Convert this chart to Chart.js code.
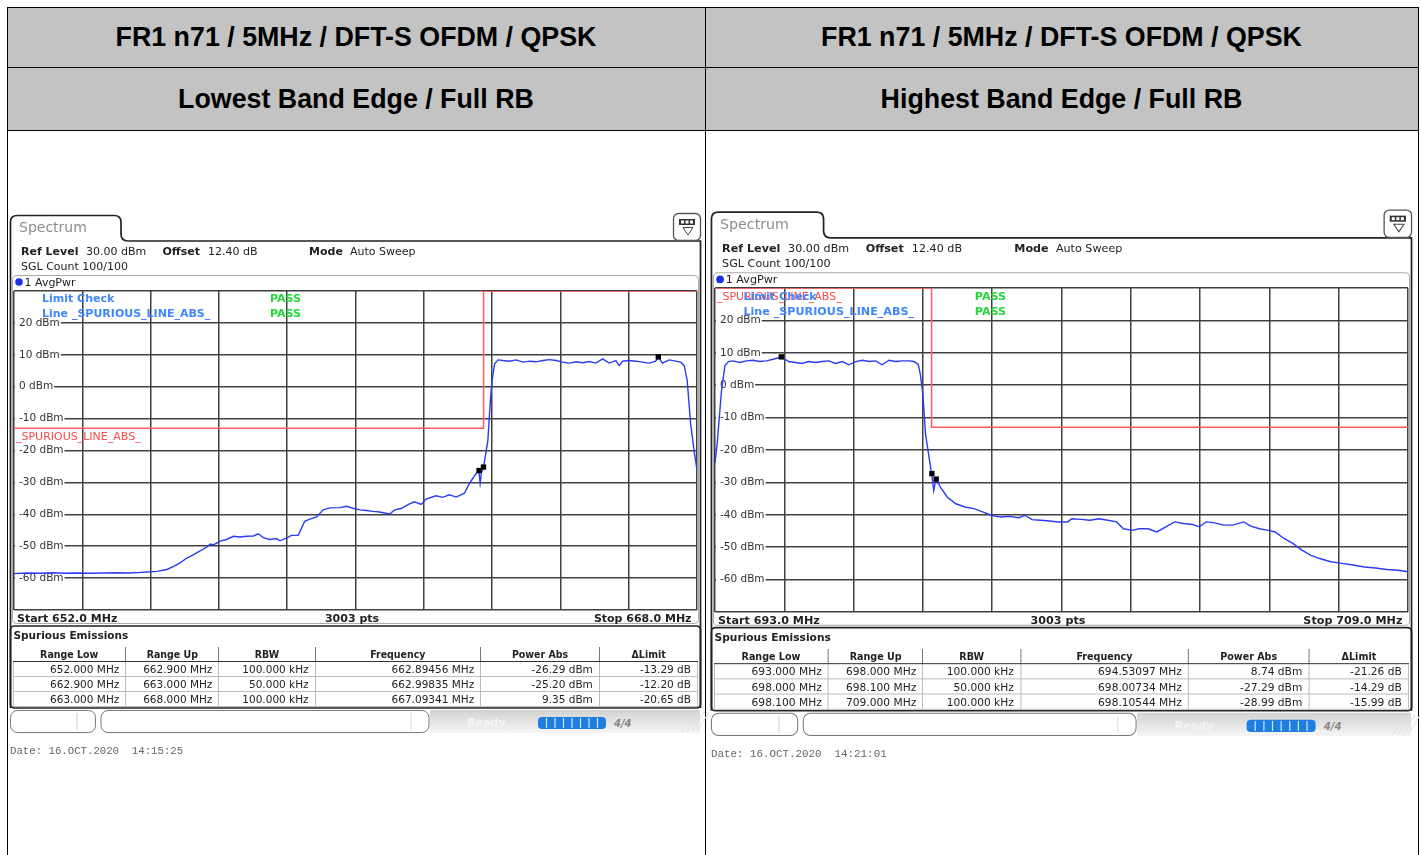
<!DOCTYPE html>
<html>
<head>
<meta charset="utf-8">
<script src="https://cdn.jsdelivr.net/npm/chart.js@4.4.1/dist/chart.umd.min.js"></script>
<style>
html, body { margin: 0; padding: 0; background: #fff; }
#page { position: relative; width: 1421px; height: 855px; overflow: hidden; font-family: "DejaVu Sans", sans-serif; color: #222; }
.hdr { position: absolute; background: #c3c3c3; display: flex; align-items: center; justify-content: center; font: bold 26.8px "Liberation Sans", Arial, sans-serif; color: #000; }
.ln { position: absolute; background: #000; }
.panel { position: absolute; left: 0; top: 0; width: 710px; height: 770px; transform-origin: 0 0; }
.panel svg { position: absolute; left: 0; top: 0; }
.t { position: absolute; white-space: pre; font-size: 11px; line-height: 13px; }
.b { font-weight: bold; }
.blue { color: #3f86ff; font-weight: bold; }
.pass { color: #25d83a; font-weight: bold; }
canvas { position: absolute; }
table.spur { position: absolute; left: 12.5px; top: 646.5px; border-collapse: collapse; table-layout: fixed; width: 684.5px; font-size: 10.5px; }
table.spur th { font-family: "DejaVu Sans Condensed", "DejaVu Sans", sans-serif; font-stretch: condensed; font-weight: bold; height: 14px; padding: 0; line-height: 14px; border-right: 1px solid #777; border-bottom: 1.5px solid #333; }
table.spur th:last-child { border-right: none; }
table.spur td { height: 14px; padding: 0 6px 0 0; line-height: 14px; text-align: right; border: 1px solid #bdbdbd; color: #222; }
</style>
</head>
<body>
<div id="page">
  <canvas id="chartL" width="691" height="327" style="left:10px;top:287px;width:691px;height:327px"></canvas>
  <canvas id="chartR" width="701" height="332" style="left:711px;top:284px;width:701px;height:332px"></canvas>
</div>
<script>
// Header texts
const titles = ["FR1 n71 / 5MHz / DFT-S OFDM / QPSK", "FR1 n71 / 5MHz / DFT-S OFDM / QPSK"];
const subtitles = ["Lowest Band Edge / Full RB", "Highest Band Edge / Full RB"];

// Lowest band edge trace (MHz, dBm)
const freqL = [652.00, 652.30, 652.60, 652.90, 653.20, 653.50, 653.80, 654.10, 654.40, 654.70,
  655.00, 655.11, 655.35, 655.58, 655.74, 655.89, 656.05, 656.20, 656.36, 656.52,
  656.60, 656.67, 656.83, 656.98, 657.14, 657.29, 657.45, 657.61, 657.72, 657.84,
  657.99, 658.15, 658.23, 658.38, 658.50, 658.66, 658.70, 658.81, 658.93, 659.09,
  659.24, 659.40, 659.63, 659.79, 659.94, 660.10, 660.25, 660.41, 660.56, 660.80,
  660.92, 661.07, 661.23, 661.38, 661.54, 661.65, 661.89, 662.04, 662.20, 662.36,
  662.55, 662.67, 662.82, 662.89, 662.92, 662.95, 663.00, 663.10, 663.16, 663.20,
  663.26, 663.34, 663.45, 663.61, 663.76, 663.92, 664.08, 664.23, 664.39, 664.54,
  664.70, 664.85, 665.01, 665.17, 665.32, 665.48, 665.63, 665.79, 665.94, 666.10,
  666.18, 666.26, 666.41, 666.57, 666.72, 666.88, 667.03, 667.10, 667.19, 667.35,
  667.50, 667.62, 667.70, 667.77, 667.85, 667.93, 668.00];
const powL = [-58.6, -58.4, -58.5, -58.3, -58.5, -58.4, -58.5, -58.4, -58.3, -58.4,
  -58.2, -58.1, -57.9, -57.3, -56.3, -55.2, -53.7, -52.7, -51.5, -50.2,
  -49.3, -49.6, -48.4, -47.9, -46.9, -47.1, -46.9, -46.8, -46.1, -47.3,
  -47.9, -47.6, -48.3, -47.5, -46.6, -46.6, -45.4, -42.2, -41.5, -40.8,
  -38.6, -38.0, -37.9, -37.5, -38.1, -38.6, -38.8, -39.1, -39.3, -39.9,
  -38.6, -38.2, -37.0, -36.1, -36.9, -35.2, -34.2, -34.7, -33.9, -34.6,
  -33.4, -30.3, -27.3, -26.3, -30.2, -27.0, -25.2, -17.0, -4.3, 2.0,
  7.2, 8.4, 8.2, 8.0, 8.4, 7.7, 8.0, 7.8, 8.2, 8.5,
  8.2, 7.7, 7.4, 7.8, 7.5, 7.9, 7.4, 8.7, 7.4, 8.2,
  6.6, 8.0, 8.2, 8.0, 7.7, 7.4, 8.0, 9.2, 7.4, 8.4,
  8.0, 7.7, 6.6, 2.0, -11.5, -19.8, -26.1];

// Highest band edge trace (MHz, dBm)
const freqR = [693.00, 693.05, 693.10, 693.15, 693.23, 693.31, 693.41, 693.57, 693.72, 693.88,
  694.03, 694.19, 694.34, 694.53, 694.70, 694.85, 695.01, 695.16, 695.32, 695.47,
  695.63, 695.78, 695.94, 696.09, 696.25, 696.40, 696.56, 696.71, 696.86, 697.02,
  697.17, 697.33, 697.48, 697.59, 697.69, 697.74, 697.79, 697.82, 697.86, 697.93,
  698.00, 698.05, 698.10, 698.20, 698.36, 698.56, 698.77, 698.98, 699.18, 699.39,
  699.60, 699.80, 700.01, 700.16, 700.32, 700.52, 700.73, 700.93, 701.14, 701.24,
  701.45, 701.66, 701.86, 702.07, 702.27, 702.43, 702.64, 702.79, 703.00, 703.20,
  703.41, 703.61, 703.82, 704.03, 704.18, 704.34, 704.54, 704.75, 704.95, 705.21,
  705.37, 705.57, 705.78, 705.93, 706.14, 706.35, 706.55, 706.76, 706.96, 707.22,
  707.48, 707.74, 707.99, 708.25, 708.51, 708.77, 709.00];
const powR = [-24.0, -18.1, -9.9, -1.7, 6.0, 7.3, 7.5, 7.0, 7.5, 7.7,
  7.3, 7.5, 8.0, 8.7, 7.3, 7.0, 6.7, 7.3, 7.0, 7.3,
  7.5, 6.7, 7.3, 6.3, 7.3, 7.7, 7.3, 7.5, 6.3, 7.7,
  7.3, 7.5, 7.5, 7.3, 6.5, 3.4, -1.7, -6.8, -15.0, -21.2,
  -27.3, -32.5, -29.0, -31.4, -34.5, -36.6, -37.6, -38.1, -39.1, -40.2,
  -40.7, -40.5, -40.9, -40.2, -41.5, -41.7, -41.9, -42.2, -42.2, -41.2,
  -41.4, -41.7, -41.2, -41.7, -42.2, -44.3, -44.8, -44.3, -44.3, -45.3,
  -43.7, -42.2, -42.7, -43.0, -43.7, -42.2, -42.5, -43.2, -43.2, -42.2,
  -43.5, -44.3, -44.8, -45.3, -47.3, -48.9, -50.9, -52.5, -53.5, -54.5,
  -55.0, -55.5, -56.1, -56.4, -56.9, -57.1, -57.6];

// Limit lines
const limitFreqL = [652, 663, 663, 668];
const limitPowL = [-13, -13, 30, 30];
const limitFreqR = [693, 698, 698, 709];
const limitPowR = [30, 30, -13, -13];

// Peak markers
const markFreqL = [662.89456, 662.99835, 667.09341];
const markPowL = [-26.29, -25.20, 9.35];
const markFreqR = [694.53097, 698.00734, 698.10544];
const markPowR = [8.74, -27.29, -28.99];

// Spurious emissions tables
const tableHead = ["Range Low", "Range Up", "RBW", "Frequency", "Power Abs", "\u0394Limit"];
const rowsL = [
  ["652.000 MHz", "662.900 MHz", "100.000 kHz", "662.89456 MHz", "-26.29 dBm", "-13.29 dB"],
  ["662.900 MHz", "663.000 MHz", "50.000 kHz", "662.99835 MHz", "-25.20 dBm", "-12.20 dB"],
  ["663.000 MHz", "668.000 MHz", "100.000 kHz", "667.09341 MHz", "9.35 dBm", "-20.65 dB"]
];
const rowsR = [
  ["693.000 MHz", "698.000 MHz", "100.000 kHz", "694.53097 MHz", "8.74 dBm", "-21.26 dB"],
  ["698.000 MHz", "698.100 MHz", "50.000 kHz", "698.00734 MHz", "-27.29 dBm", "-14.29 dB"],
  ["698.100 MHz", "709.000 MHz", "100.000 kHz", "698.10544 MHz", "-28.99 dBm", "-15.99 dB"]
];

const page = document.getElementById("page");

// Outer table (header cells + lines)
function addDiv(cls, css, html) {
  const d = document.createElement("div");
  d.className = cls;
  d.style.cssText = css;
  if (html) d.innerHTML = html;
  page.appendChild(d);
  return d;
}
addDiv("hdr", "left:7px;top:7px;width:698px;height:60px", titles[0]);
addDiv("hdr", "left:705px;top:7px;width:713px;height:60px", titles[1]);
addDiv("hdr", "left:7px;top:68px;width:698px;height:62px", subtitles[0]);
addDiv("hdr", "left:705px;top:68px;width:713px;height:62px", subtitles[1]);
addDiv("ln", "left:7px;top:7px;width:1412px;height:1px");
addDiv("ln", "left:7px;top:67px;width:1412px;height:1px");
addDiv("ln", "left:7px;top:130px;width:1412px;height:1px");
addDiv("ln", "left:7px;top:7px;width:1px;height:848px");
addDiv("ln", "left:705px;top:7px;width:1px;height:848px");
addDiv("ln", "left:1418px;top:7px;width:1px;height:848px");

// Spectrum analyzer frame around each chart
function buildPanel(p) {
  const el = document.createElement("div");
  el.className = "panel";
  if (p.transform) el.style.transform = p.transform;
  let stripes = "";
  for (let i = 1; i < 8; i++) {
    const x = 538 + i * 8.5;
    stripes += `<line x1="${x}" y1="718" x2="${x}" y2="728" stroke="#cfe6ff" stroke-width="1.2"/>`;
  }
  let hatch = "";
  for (let i = 0; i < 4; i++) {
    const x = 682 + i * 5;
    hatch += `<line x1="${x}" y1="732" x2="${x + 12}" y2="712" stroke="#e2e2e2" stroke-width="1"/>`;
  }
  el.innerHTML = `
  <svg width="710" height="770">
    <defs><linearGradient id="sg${p.id}" x1="0" y1="0" x2="0" y2="1">
      <stop offset="0" stop-color="#d2d2d2"/><stop offset="1" stop-color="#f6f6f6"/></linearGradient></defs>
    <path d="M10.5 708 V222 Q10.5 215.5 17.5 215.5 H114 Q121 215.5 121 222 V234 Q121 241 128 241 H700.5 V708"
      stroke="#222" stroke-width="1.7" fill="none"/>
    <rect x="673.5" y="213.5" width="27" height="27" rx="5" fill="#fff" stroke="#555" stroke-width="1.3"/>
    <rect x="679" y="219" width="16" height="6" fill="#333"/>
    <rect x="681" y="220.5" width="3" height="3" fill="#fff"/>
    <rect x="685.5" y="220.5" width="3" height="3" fill="#fff"/>
    <rect x="690" y="220.5" width="3" height="3" fill="#fff"/>
    <polygon points="683,227.5 693,227.5 688,235" fill="none" stroke="#444" stroke-width="1"/>
    <rect x="12.5" y="275.5" width="686" height="348" rx="4" fill="none" stroke="#aaa" stroke-width="1"/>
    <rect x="10.5" y="626" width="690" height="82" rx="4" fill="none" stroke="#222" stroke-width="1.7"/>
    <circle cx="19" cy="282" r="3.8" fill="#1a2fe8"/>
    <rect x="430" y="710" width="270" height="23" fill="url(#sg${p.id})"/>
    ${hatch}
    <rect x="10.5" y="710.5" width="85" height="22" rx="7" fill="#fff" stroke="#777"/>
    <line x1="77" y1="713" x2="77" y2="730" stroke="#ccc"/>
    <rect x="101" y="710.5" width="328" height="22" rx="7" fill="#fff" stroke="#777"/>
    <line x1="411" y1="713" x2="411" y2="730" stroke="#ddd"/>
    <text x="467" y="726" font-family="DejaVu Sans" font-size="11" font-weight="bold" fill="#f4f4f4">Ready</text>
    <rect x="538" y="717" width="68" height="12" rx="4" fill="#1f7fe0"/>
    ${stripes}
    <text x="614" y="727" font-family="DejaVu Sans" font-size="10" font-weight="bold" font-style="italic" fill="#888">4/4</text>
  </svg>
  <div class="t" style="left:19px;top:219px;font-size:14px;line-height:16px;color:#8d8d8d">Spectrum</div>
  <div class="t b" style="left:21px;top:245px">Ref Level</div>
  <div class="t" style="left:86px;top:245px">30.00 dBm</div>
  <div class="t b" style="left:162.5px;top:245px">Offset</div>
  <div class="t" style="left:208px;top:245px">12.40 dB</div>
  <div class="t b" style="left:309px;top:245px">Mode</div>
  <div class="t" style="left:350px;top:245px">Auto Sweep</div>
  <div class="t" style="left:21px;top:260px">SGL Count 100/100</div>
  <div class="t" style="left:24.5px;top:276px">1 AvgPwr</div>
  <div class="t blue" style="left:42px;top:292px">Limit Check</div>
  <div class="t blue" style="left:42px;top:307px">Line _SPURIOUS_LINE_ABS_</div>
  <div class="t pass" style="left:270px;top:292px">PASS</div>
  <div class="t pass" style="left:270px;top:307px">PASS</div>
  <div class="t b" style="left:17px;top:611.5px">${p.start}</div>
  <div class="t b" style="left:252px;top:611.5px;width:200px;text-align:center">3003 pts</div>
  <div class="t b" style="left:491.5px;top:611.5px;width:200px;text-align:right">${p.stop}</div>
  <div class="t b" style="left:13.5px;top:629px;font-size:10.5px">Spurious Emissions</div>
  <table class="spur">
    <colgroup><col style="width:112.8px"><col style="width:93.1px"><col style="width:96.2px"><col style="width:165.6px"><col style="width:118.7px"><col style="width:98.1px"></colgroup>
    <tr>${tableHead.map(h => `<th>${h}</th>`).join("")}</tr>
    ${p.rows.map(r => `<tr>${r.map(c => `<td>${c}</td>`).join("")}</tr>`).join("")}
  </table>
  <div class="t" style="left:10px;top:744.5px;font-family:'Liberation Mono',monospace;font-size:10.7px;color:#666">${p.date}</div>`;
  page.appendChild(el);
}

buildPanel({ id: "L", start: "Start 652.0 MHz", stop: "Stop 668.0 MHz", rows: rowsL, date: "Date: 16.OCT.2020  14:15:25" });
buildPanel({ id: "R", start: "Start 693.0 MHz", stop: "Stop 709.0 MHz", rows: rowsR, date: "Date: 16.OCT.2020  14:21:01",
  transform: "translate(700.8px, -6.1px) scale(1.0146, 1.0125)" });

// Red limit-line name drawn just under the first limit segment
const limitLabel = {
  id: "limitLabel",
  afterDatasetsDraw(chart, args, opts) {
    const { ctx, chartArea, scales } = chart;
    ctx.save();
    ctx.font = '11px "DejaVu Sans"';
    ctx.fillStyle = "#ff4a4a";
    ctx.textBaseline = "middle";
    ctx.fillText("_SPURIOUS_LINE_ABS_", chartArea.left + 2, scales.y.getPixelForValue(opts.level) + 9);
    ctx.restore();
  }
};

function makeChart(id, start, stop, freq, pow, limF, limP, mkF, mkP, pad) {
  const xTicks = [];
  for (let i = 0; i <= 10; i++) xTicks.push(start + i * (stop - start) / 10);
  const gridOpts = { color: "#404040", lineWidth: 1.5, drawTicks: false };
  return new Chart(document.getElementById(id), {
    type: "line",
    data: {
      datasets: [
        { data: mkF.map((f, i) => ({ x: f, y: mkP[i] })), showLine: false, pointStyle: "rect",
          pointRadius: 3.8, backgroundColor: "#000", borderColor: "#000", borderWidth: 0, order: 0 },
        { data: freq.map((f, i) => ({ x: f, y: pow[i] })), borderColor: "#2a3cf5", borderWidth: 1.4,
          pointRadius: 0, tension: 0, order: 1 },
        { data: limF.map((f, i) => ({ x: f, y: limP[i] })), borderColor: "#ff5a5a", borderWidth: 1.5,
          pointRadius: 0, tension: 0, order: 2 }
      ]
    },
    options: {
      responsive: false,
      animation: false,
      devicePixelRatio: 1,
      layout: { padding: pad },
      plugins: { legend: { display: false }, tooltip: { enabled: false }, limitLabel: { level: limP[0] } },
      scales: {
        x: {
          type: "linear", min: start, max: stop,
          afterBuildTicks: s => { s.ticks = xTicks.map(v => ({ value: v })); },
          afterFit: s => { s.height = 0; s.paddingLeft = 0; s.paddingRight = 0; s.paddingTop = 0; s.paddingBottom = 0; },
          ticks: { display: false },
          grid: gridOpts,
          border: { display: false }
        },
        y: {
          min: -70, max: 30,
          afterFit: s => { s.width = 0; s.paddingLeft = 0; s.paddingRight = 0; s.paddingTop = 0; s.paddingBottom = 0; },
          ticks: {
            stepSize: 10, mirror: true, padding: 5, color: "#333",
            font: { family: "DejaVu Sans", size: 10.5 },
            callback: v => (v === 30 || v === -70) ? "" : v + " dBm",
            showLabelBackdrop: true,
            backdropColor: c => (c.tick && (c.tick.value === 30 || c.tick.value === -70)) ? "rgba(0,0,0,0)" : "#fff",
            backdropPadding: { left: 4, right: 1, top: -1, bottom: -1 }
          },
          grid: gridOpts,
          border: { display: false }
        }
      }
    },
    plugins: [limitLabel]
  });
}

makeChart("chartL", 652, 668, freqL, powL, limitFreqL, limitPowL, markFreqL, markPowL, 3);
makeChart("chartR", 693, 709, freqR, powR, limitFreqR, limitPowR, markFreqR, markPowR,
  { left: 3, right: 3, top: 3.5, bottom: 3.5 });
</script>
</body>
</html>
